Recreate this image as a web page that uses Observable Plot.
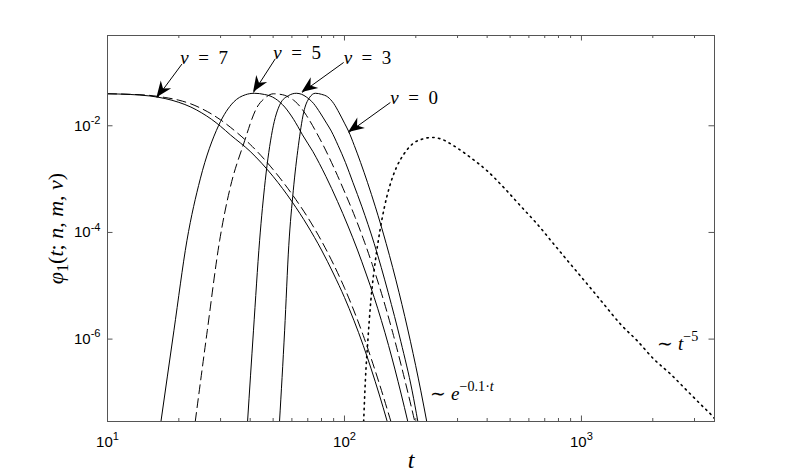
<!DOCTYPE html>
<html><head><meta charset="utf-8">
<script src="https://cdn.jsdelivr.net/npm/d3@7"></script>
<script src="https://cdn.jsdelivr.net/npm/@observablehq/plot@0.6"></script>
<style>
html,body{margin:0;padding:0;background:#fff;}
#chart{width:789px;height:474px;}
</style></head>
<body><div id="chart"></div>
<script>
// ---- axis ticks ----
const xMajor = [10, 100, 1000];
const xMinor = [20,30,40,50,60,70,80,90,200,300,400,500,600,700,800,900,2000,3000];
const xTickLabels = ["10^{1}", "10^{2}", "10^{3}"];
const yMajor = [1e-2, 1e-4, 1e-6];
const yTickLabels = ["10^{-2}", "10^{-4}", "10^{-6}"];
const xLabel = "*t*";
const yLabel = "*φ*_{1}(*t*; *n*, *m*, *ν*)";

// ---- curves (t, φ) ----
// ν = 7, solid
const tS7 = [10,12.5,15,17.5,20,22.5,25,27.5,30,33,40,50,60,70,80,90,100,120,140,151.5];
const phiS7 = [3.98e-2,3.86e-2,3.63e-2,3.24e-2,2.75e-2,2.24e-2,1.74e-2,1.32e-2,9.77e-3,6.76e-3,3.31e-3,1.12e-3,3.80e-4,1.32e-4,4.68e-5,1.66e-5,6.03e-6,7.59e-7,9.33e-8,2.85e-8];
// ν = 7, dashed
const tD7 = [10,12.5,15,17.5,20,22.5,25,27.5,30,35,40,50,60,70,80,90,100,120,140,157];
const phiD7 = [3.98e-2,3.89e-2,3.72e-2,3.39e-2,3.02e-2,2.57e-2,2.09e-2,1.66e-2,1.29e-2,7.59e-3,4.47e-3,1.51e-3,5.25e-4,1.91e-4,6.92e-5,2.51e-5,9.12e-6,1.17e-6,1.51e-7,2.85e-8];
// ν = 5, solid
const tS5 = [16.81,19.06,21.63,24.63,29.43,34.04,38.14,41.6,46,48.5,51,53.5,56,58.5,61,63.5,66.5,73.5,83.5,93.5,103.5,113.5,123.5,133.5,153.5,173.5,185];
const phiS5 = [2.85e-8,1.43e-6,6.98e-5,1.01e-3,1.01e-2,2.78e-2,3.81e-2,4.07e-2,3.86e-2,3.63e-2,3.24e-2,2.75e-2,2.24e-2,1.74e-2,1.32e-2,9.77e-3,6.76e-3,3.31e-3,1.12e-3,3.80e-4,1.32e-4,4.68e-5,1.66e-5,6.03e-6,7.59e-7,9.33e-8,2.85e-8];
// ν = 5, dashed
const tD5 = [23.46,26.36,29.72,32.96,37.51,42.7,46.3,50.1,53.5,56,58.5,61,63.5,66,68.5,71,76,81,91,101,111,121,131,141,161,181,198];
const phiD5 = [2.85e-8,1.43e-6,6.98e-5,6.97e-4,4.54e-3,2.20e-2,3.35e-2,3.98e-2,3.89e-2,3.72e-2,3.39e-2,3.02e-2,2.57e-2,2.09e-2,1.66e-2,1.29e-2,7.59e-3,4.47e-3,1.51e-3,5.25e-4,1.91e-4,6.92e-5,2.51e-5,9.12e-6,1.17e-6,1.51e-7,2.85e-8];
// ν = 3, solid
const tS3 = [39.0,41.3,43.83,46.3,49.6,53.6,57.9,62.6,66,69,74,79,84,88,94,101,108.5,118.5,133.5,153,173,193,204];
const phiS3 = [2.85e-8,1.43e-6,6.98e-5,9.31e-4,8.05e-3,2.59e-2,3.65e-2,4.07e-2,3.89e-2,3.47e-2,2.63e-2,1.74e-2,1.12e-2,7.94e-3,4.27e-3,2.04e-3,8.71e-4,3.02e-4,6.17e-5,7.41e-6,8.91e-7,1.07e-7,2.85e-8];
// ν = 0, solid
const tS0 = [53.2,55.9,58.2,60.8,63.9,67.2,71.1,75.3,80,85,90,95,100,104,110,117,125,135,150,170,190,210,222.4];
const phiS0 = [2.85e-8,1.43e-6,5.62e-5,6.04e-4,4.22e-3,1.75e-2,3.35e-2,4.07e-2,3.89e-2,3.47e-2,2.63e-2,1.74e-2,1.12e-2,7.94e-3,4.27e-3,2.04e-3,8.71e-4,3.02e-4,6.17e-5,7.41e-6,8.91e-7,1.07e-7,2.85e-8];
// dotted curve
const tP = [120.5,122.5,125.5,129.2,135.0,141.1,147.3,154.6,165.6,178.1,193.4,213.2,234.2,254.0,288.9,339.8,399.9,469.9,552.6,650.1,764.1,898.5,1057,1242,1461,1719,2020,2376,2795,3284,3506,3643];
const phiP = [2.85e-8,1.66e-7,9.31e-7,5.24e-6,2.94e-5,1.07e-4,2.94e-4,6.97e-4,1.65e-3,2.94e-3,4.54e-3,5.64e-3,6.04e-3,5.70e-3,4.22e-3,2.55e-3,1.43e-3,6.97e-4,3.16e-4,1.44e-4,6.05e-5,2.55e-5,1.08e-5,4.54e-6,1.91e-6,9.31e-7,4.22e-7,2.21e-7,1.07e-7,5.22e-8,3.93e-8,3.24e-8];

// ---- annotations (data coordinates) ----
const arrowFromT = [20.61, 51.05, 99.2, 156.2];
const arrowFromP = [0.1436, 0.1804, 0.1538, 0.02735];
const arrowToT   = [16.17, 41.33, 66.2, 104.1];
const arrowToP   = [0.0335, 0.0421, 0.0421, 0.00748];
const nuLabels = ["*ν*\u2002=\u20027", "*ν*\u2002=\u20025", "*ν*\u2002=\u20023", "*ν*\u2002=\u20020"];
const nuLabelT = [20.28, 50.08, 99.2, 156.2];
const nuLabelP = [0.1436, 0.1805, 0.1454, 0.02586];
const asymLabels = ["∼ *e*^{−0.1·*t*}", "∼ *t*^{−5}"];
const asymT = [230.4, 2087];
const asymP = [7.28e-8, 6.31e-7];

// ---- build ----
const W = 789, H = 474, mL = 107, mR = 75, mT = 35, mB = 53;
const innerW = W - mL - mR, innerH = H - mT - mB;
const series = (ts, ps) => ts.map((t, i) => ({t, phi: ps[i]}));
const solid = [series(tS7, phiS7), series(tS5, phiS5), series(tS3, phiS3), series(tS0, phiS0)];
const dashed = [series(tD7, phiD7), series(tD5, phiD5)];
const dotted = series(tP, phiP);
const arrows = arrowFromT.map((t, i) => ({t1: t, p1: arrowFromP[i], t2: arrowToT[i], p2: arrowToP[i]}));
const nuTexts = nuLabels.map((s, i) => ({s, t: nuLabelT[i], p: nuLabelP[i]}));
const asymTexts = asymLabels.map((s, i) => ({s, t: asymT[i], p: asymP[i]}));

const axisColor = "#555";
const lineOpts = {x: "t", y: "phi", curve: "monotone-x", stroke: "#000", strokeWidth: 1, clip: true};
const serif = "Liberation Serif, Times New Roman, serif";
const sans = "Liberation Sans, Arial, Helvetica, sans-serif";

const chart = Plot.plot({
  width: W, height: H,
  marginLeft: mL, marginRight: mR, marginTop: mT, marginBottom: mB,
  style: {background: "#fff"},
  x: {type: "log", domain: [10, 3643], axis: null},
  y: {type: "log", domain: [2.85e-8, 0.493], axis: null},
  marks: [
    Plot.tickX(xMajor, {x: d => d, insetTop: innerH - 5.5, stroke: axisColor}),
    Plot.tickX(xMajor, {x: d => d, insetBottom: innerH - 5.5, stroke: axisColor}),
    Plot.tickX(xMinor, {x: d => d, insetTop: innerH - 3, stroke: axisColor}),
    Plot.tickX(xMinor, {x: d => d, insetBottom: innerH - 3, stroke: axisColor}),
    Plot.tickY(yMajor, {y: d => d, insetRight: innerW - 5.5, stroke: axisColor}),
    Plot.tickY(yMajor, {y: d => d, insetLeft: innerW - 5.5, stroke: axisColor}),
    ...solid.map(d => Plot.line(d, lineOpts)),
    ...dashed.map(d => Plot.line(d, {...lineOpts, strokeDasharray: "9,5"})),
    Plot.line(dotted, {...lineOpts, strokeDasharray: "1.4,4.4", strokeWidth: 1.6}),
    Plot.frame({stroke: axisColor, strokeWidth: 1}),
    Plot.link(arrows, {x1: "t1", y1: "p1", x2: "t2", y2: "p2", stroke: "#000", strokeWidth: 1}),
    Plot.text(xMajor, {x: d => d, text: (d, i) => xTickLabels[i], frameAnchor: "bottom", dy: 25, lineAnchor: "bottom", textAnchor: "middle", fontFamily: sans, fontSize: 15, fill: "#000"}),
    Plot.text(yMajor, {y: d => d, text: (d, i) => yTickLabels[i], frameAnchor: "left", dx: -7, lineAnchor: "middle", textAnchor: "end", fontFamily: sans, fontSize: 15, fill: "#000"}),
    Plot.text([xLabel], {text: d => d, frameAnchor: "bottom", dy: 46, lineAnchor: "bottom", textAnchor: "middle", fontFamily: serif, fontSize: 24, fill: "#000"}),
    Plot.text([yLabel], {text: d => d, frameAnchor: "left", dx: -52, rotate: -90, lineAnchor: "middle", textAnchor: "middle", fontFamily: serif, fontSize: 22, fill: "#000"}),
    Plot.text(nuTexts, {x: "t", y: "p", text: "s", textAnchor: "start", lineAnchor: "bottom", fontFamily: serif, fontSize: 19, fill: "#000"}),
    Plot.text(asymTexts, {x: "t", y: "p", text: "s", textAnchor: "start", lineAnchor: "bottom", fontFamily: serif, fontSize: 19, fill: "#000"})
  ]
});
document.getElementById("chart").appendChild(chart);

// ---- rich text: *italic*, ^{sup}, _{sub} ----
function richify(el, markup) {
  const fs = parseFloat(getComputedStyle(el).fontSize) || 14;
  const segs = [];
  let italic = false, mode = null, buf = "";
  const flush = () => { if (buf) { segs.push({s: buf, italic, mode}); buf = ""; } };
  for (let i = 0; i < markup.length; i++) {
    const c = markup[i];
    if (c === "*") { flush(); italic = !italic; }
    else if ((c === "^" || c === "_") && markup[i + 1] === "{") { flush(); mode = c === "^" ? "sup" : "sub"; i++; }
    else if (c === "}" && mode) { flush(); mode = null; }
    else buf += c;
  }
  flush();
  const sel = d3.select(el);
  sel.text(null);
  let shift = 0;
  for (const seg of segs) {
    const target = seg.mode === "sup" ? -0.45 * fs : seg.mode === "sub" ? 0.25 * fs : 0;
    const ts = sel.append("tspan").text(seg.s);
    if (target !== shift) { ts.attr("dy", target - shift); shift = target; }
    if (seg.italic) ts.attr("font-style", "italic");
    if (seg.mode) ts.attr("font-size", (0.74 * fs).toFixed(1));
  }
}
chart.querySelectorAll("text").forEach(el => {
  const s = el.textContent;
  if (s.includes("*") || s.includes("^{") || s.includes("_{")) richify(el, s);
});

// ---- filled arrowheads, placed with Plot's scales ----
const sx = chart.scale("x"), sy = chart.scale("y");
const g = d3.select(chart).append("g").attr("aria-label", "arrowheads");
arrows.forEach(a => {
  const x1 = sx.apply(a.t1), y1 = sy.apply(a.p1), x2 = sx.apply(a.t2), y2 = sy.apply(a.p2);
  const dx = x2 - x1, dy = y2 - y1, len = Math.hypot(dx, dy);
  const ux = dx / len, uy = dy / len, nx = -uy, ny = ux;
  const L = 16, Wd = 6.5, N = 11;
  const pts = [[x2, y2], [x2 - L * ux + Wd * nx, y2 - L * uy + Wd * ny], [x2 - N * ux, y2 - N * uy], [x2 - L * ux - Wd * nx, y2 - L * uy - Wd * ny]];
  g.append("path").attr("d", "M" + pts.map(p => p[0].toFixed(2) + "," + p[1].toFixed(2)).join("L") + "Z").attr("fill", "#000");
});
</script>
</body></html>
